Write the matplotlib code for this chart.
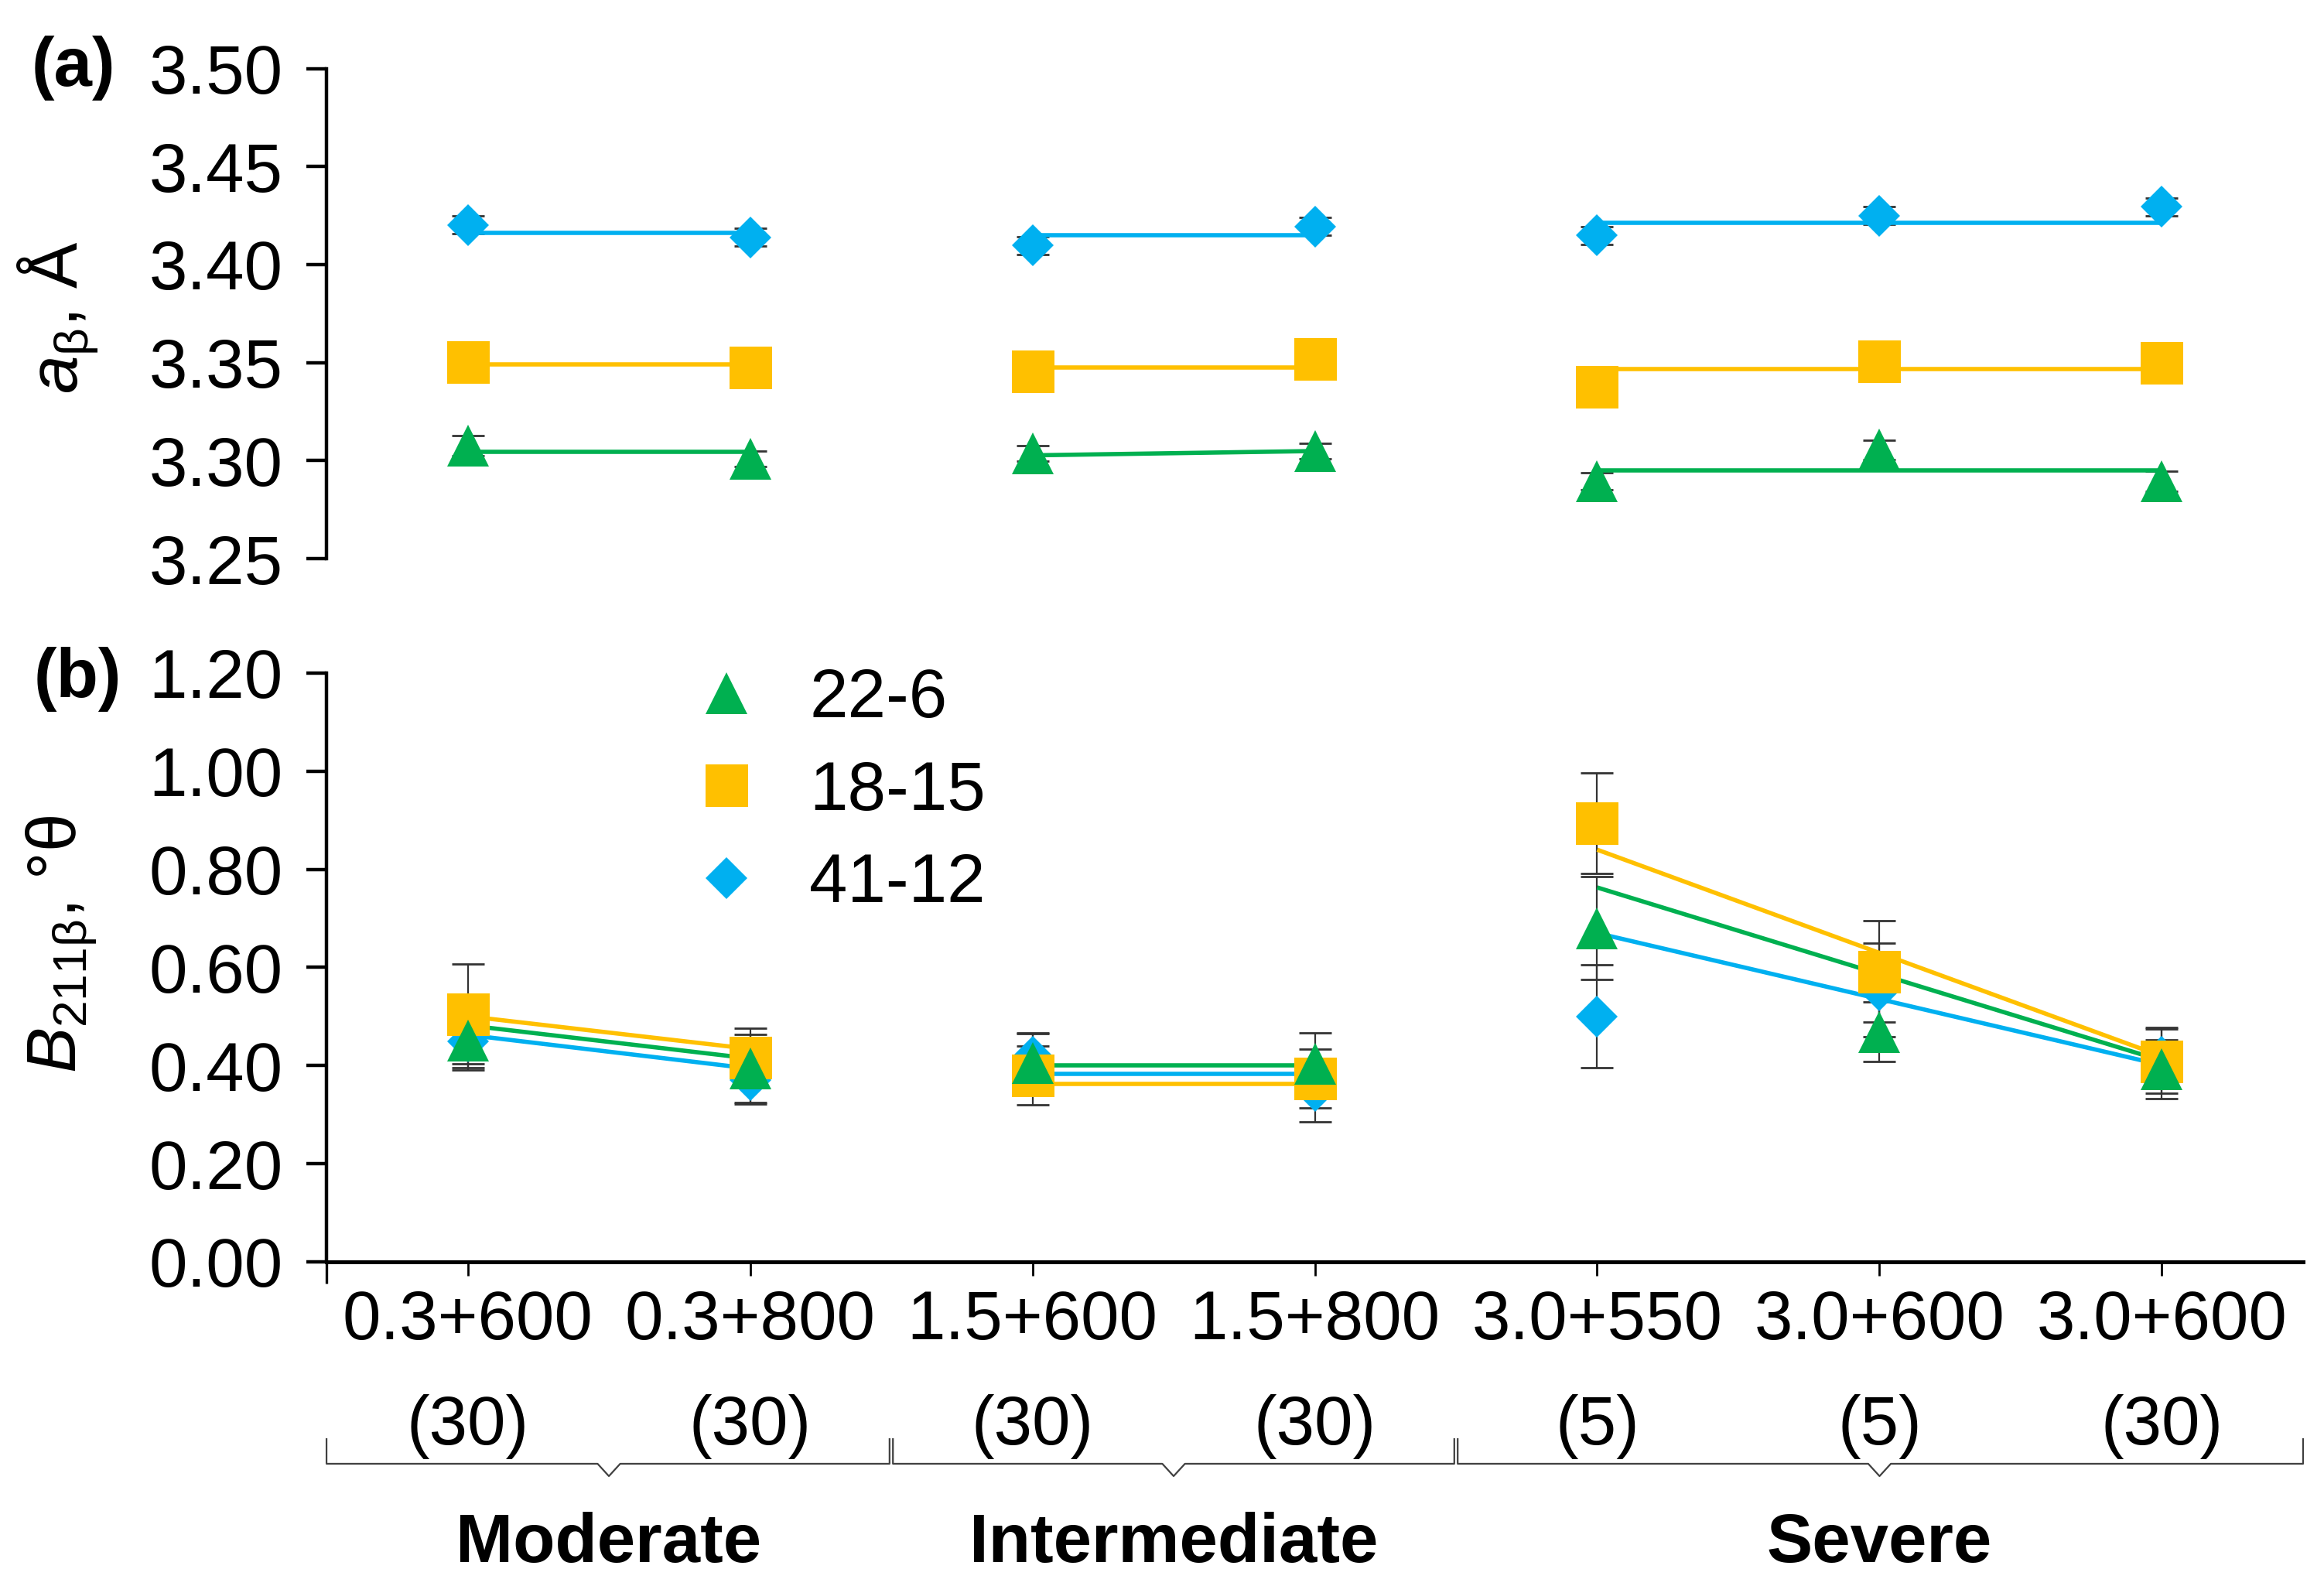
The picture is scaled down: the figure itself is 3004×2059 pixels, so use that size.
import numpy as np
import matplotlib
matplotlib.use('Agg')
import matplotlib.pyplot as plt
import matplotlib.transforms as mtransforms
from matplotlib.lines import Line2D

# categories (heat treatment) and grouping
conditions = ['0.3+600\n(30)', '0.3+800\n(30)', '1.5+600\n(30)', '1.5+800\n(30)',
              '3.0+550\n(5)', '3.0+600\n(5)', '3.0+600\n(30)']
group_names = ['Moderate', 'Intermediate', 'Severe']
group_sizes = [2, 2, 3]
series = ['22-6', '18-15', '41-12']

# (a) lattice parameter a_beta, A
a_22_6 = [3.3076, 3.3010, 3.3037, 3.3050, 3.2895, 3.3055, 3.2895]
a_18_15 = [3.3504, 3.3476, 3.3455, 3.3520, 3.3376, 3.3508, 3.3499]
a_41_12 = [3.4203, 3.4139, 3.4097, 3.4194, 3.4148, 3.4250, 3.4294]
a_err_22_6 = [0.005, 0.004, 0.004, 0.004, 0.0045, 0.005, 0.005]
a_err_18_15 = [0.004, 0.004, 0.004, 0.004, 0.004, 0.004, 0.004]
a_err_41_12 = [0.0045, 0.0045, 0.0045, 0.0045, 0.0045, 0.0045, 0.0045]
# trend lines per group (start, end)
a_fit_22_6 = [(3.3044, 3.3044), (3.3027, 3.3049), (3.2951, 3.2951)]
a_fit_18_15 = [(3.3491, 3.3491), (3.3476, 3.3476), (3.3467, 3.3467)]
a_fit_41_12 = [(3.4161, 3.4161), (3.4148, 3.4148), (3.4214, 3.4214)]

# (b) line broadening B_211beta, deg theta
b_22_6 = [0.451, 0.394, 0.405, 0.403, 0.680, 0.469, 0.392]
b_18_15 = [0.505, 0.416, 0.380, 0.373, 0.894, 0.592, 0.409]
b_41_12 = [0.450, 0.371, 0.417, 0.349, 0.500, 0.554, 0.417]
b_err_22_6 = [0.060, 0.070, 0.060, 0.064, 0.105, 0.060, 0.060]
b_err_18_15 = [0.102, 0.060, 0.060, 0.060, 0.102, 0.104, 0.065]
b_err_41_12 = [0.055, 0.050, 0.050, 0.063, 0.105, 0.095, 0.060]
b_fit_22_6 = [(0.482, 0.4145), (0.401, 0.401), (0.763, 0.410)]
b_fit_18_15 = [(0.5005, 0.434), (0.363, 0.363), (0.840, 0.419)]
b_fit_41_12 = [(0.4625, 0.394), (0.383, 0.383), (0.670, 0.401)]

a_vals = {'22-6': a_22_6, '18-15': a_18_15, '41-12': a_41_12}
a_errs = {'22-6': a_err_22_6, '18-15': a_err_18_15, '41-12': a_err_41_12}
a_fits = {'22-6': a_fit_22_6, '18-15': a_fit_18_15, '41-12': a_fit_41_12}
b_vals = {'22-6': b_22_6, '18-15': b_18_15, '41-12': b_41_12}
b_errs = {'22-6': b_err_22_6, '18-15': b_err_18_15, '41-12': b_err_41_12}
b_fits = {'22-6': b_fit_22_6, '18-15': b_fit_18_15, '41-12': b_fit_41_12}

styles = {
    '22-6': dict(color='#00B050', marker='^', ms=19.5, z=5),
    '18-15': dict(color='#FFC000', marker='s', ms=19.8, z=4),
    '41-12': dict(color='#00B0F0', marker='D', ms=13.7, z=3),
}

plt.rcParams['font.family'] = ['Liberation Sans', 'DejaVu Sans']
plt.rcParams['font.size'] = 32
plt.rcParams['mathtext.fontset'] = 'custom'
plt.rcParams['mathtext.rm'] = 'Liberation Sans'
plt.rcParams['mathtext.it'] = 'Liberation Sans:italic'
plt.rcParams['mathtext.bf'] = 'Liberation Sans:bold'

W, H = 3004, 2059
fig = plt.figure(figsize=(W / 200, H / 200), dpi=200)
ax_a = fig.add_axes([0.1405, 0.6493, 0.8505, 0.3077])
ax_b = fig.add_axes([0.1405, 0.2079, 0.8505, 0.3696])

x = np.arange(len(conditions))
sizes = np.array(group_sizes)
starts = np.cumsum(np.r_[0, sizes[:-1]])
ends = starts + sizes - 1


def draw_panel(ax, vals, errs, fits):
    for name in series[::-1]:
        st = styles[name]
        for (y0, y1), s, e in zip(fits[name], starts, ends):
            ax.plot([s, e], [y0, y1], color=st['color'], lw=2.0, zorder=2,
                    solid_capstyle='butt')
        ax.errorbar(x, vals[name], yerr=errs[name], fmt='none', ecolor='#333333',
                    elinewidth=0.8, capsize=7.5, capthick=1.0, zorder=1)
        ax.plot(x, vals[name], ls='none', marker=st['marker'], ms=st['ms'],
                color=st['color'], mec=st['color'], mew=0, zorder=st['z'])
    ax.set_xlim(-0.5, 6.5)
    for side in ['top', 'right']:
        ax.spines[side].set_visible(False)
    ax.spines['left'].set_linewidth(1.6)
    ax.tick_params(axis='y', direction='out', length=9.4, width=1.6, pad=11)
    ax.yaxis.set_major_formatter(matplotlib.ticker.FormatStrFormatter('%.2f'))


draw_panel(ax_a, a_vals, a_errs, a_fits)
ax_a.set_ylim(3.25, 3.50)
ax_a.set_yticks(np.arange(3.25, 3.5001, 0.05))
ax_a.spines['bottom'].set_visible(False)
ax_a.tick_params(axis='x', bottom=False, labelbottom=False)

draw_panel(ax_b, b_vals, b_errs, b_fits)
ax_b.set_ylim(0, 1.2)
ax_b.set_yticks(np.arange(0, 1.2001, 0.2))
ax_b.spines['bottom'].set_linewidth(1.8)
ax_b.set_xticks(x)
ax_b.set_xticklabels(conditions, linespacing=1.8)
ax_b.set_xticks([-0.5], minor=True)
ax_b.tick_params(axis='x', which='major', direction='out', length=6.5, width=1.0, pad=6)
ax_b.tick_params(axis='x', which='minor', direction='out', length=10, width=1.2,
                 labelbottom=False)

# group brackets under the tick labels
blend = mtransforms.blended_transform_factory(ax_b.transData, ax_b.transAxes)
y_top, y_base, y_notch, w = -0.301, -0.343, -0.364, 0.04
lefts = starts - 0.5
rights = ends + 0.5
for i, name in enumerate(group_names):
    L = lefts[i] + (0.0 if i == 0 else 0.006)
    R = rights[i] - (0.0 if i == len(group_names) - 1 else 0.006)
    c = (lefts[i] + rights[i]) / 2
    ax_b.plot([L, L, c - w, c, c + w, R, R],
              [y_top, y_base, y_base, y_notch, y_base, y_base, y_top],
              color='#404040', lw=0.8, transform=blend, clip_on=False)
    ax_b.text(c, -0.48, name, transform=blend, ha='center', va='center',
              fontweight='bold')

# legend
handles = [Line2D([], [], ls='none', marker=styles[n]['marker'], ms=styles[n]['ms'],
                  color=styles[n]['color'], mew=0) for n in series]
ax_b.legend(handles, series, loc='upper left', frameon=False,
            bbox_to_anchor=(895 / W, 1 - 862 / H), bbox_transform=fig.transFigure,
            borderpad=0, borderaxespad=0, handlelength=1.0, handletextpad=0.7,
            labelspacing=0.4)

# axis titles and panel letters
fig.text(75 / W, 1 - 410 / H, r'$\mathit{a}_{\mathrm{β}}$, Å', rotation=90,
         ha='center', va='center')
fig.text(80 / W, 1 - 1220 / H, r'$\mathit{B}_{\mathit{211}\mathrm{β}}$, °θ', rotation=90,
         ha='center', va='center')
fig.text(95 / W, 1 - 88 / H, '(a)', fontweight='bold', ha='center', va='center')
fig.text(100 / W, 1 - 878 / H, '(b)', fontweight='bold', ha='center', va='center')

fig.savefig('out.png', dpi=200, facecolor='white')
